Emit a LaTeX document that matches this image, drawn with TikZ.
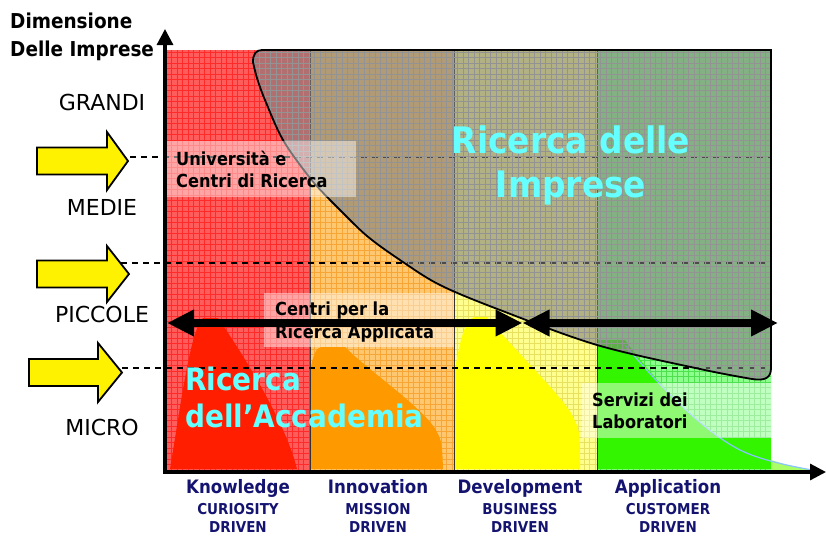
\documentclass[tikz,border=0pt]{standalone}
\usepackage{fontspec}
\setmainfont{DejaVu Sans}
\newfontfamily\bfont{DejaVu Sans}[FakeStretch=0.9]
\usetikzlibrary{arrows.meta}
\definecolor{redfill}{HTML}{FF5C5C}
\definecolor{redgrid}{HTML}{FF2A2A}
\definecolor{redhill}{HTML}{FF1E00}
\definecolor{orafill}{HTML}{FFC870}
\definecolor{oragrid}{HTML}{F7A535}
\definecolor{orahill}{HTML}{FF9900}
\definecolor{yelfill}{HTML}{FFFF90}
\definecolor{yelgrid}{HTML}{E8E060}
\definecolor{yelhill}{HTML}{FFFF00}
\definecolor{grnfill}{HTML}{8CFF8C}
\definecolor{grngrid}{HTML}{4FE04F}
\definecolor{grnhill}{HTML}{33F500}
\definecolor{greyov}{HTML}{7D7D7D}
\definecolor{cyantext}{HTML}{66FFFF}
\definecolor{navy}{HTML}{141470}
\definecolor{tailblue}{HTML}{88C4FF}
\newcommand{\drawcolumn}[4]{%
  \begin{scope}
    \clip (#1,50) rectangle (#2,470);
    \fill[#3] (#1,50) rectangle (#2,470);
    \foreach \gx in {166,171.5,...,780} \draw[#4,line width=0.8pt] (\gx,50) -- (\gx,470);
    \foreach \gy in {52,57.5,...,472} \draw[#4,line width=0.8pt] (#1,\gy) -- (#2,\gy);
  \end{scope}}
\def\greypath{(771,50) -- (262,50) .. controls (256,50) and (253,54) .. (253,62)
  -- plot[smooth,tension=0.55] coordinates {(253,62) (257,78) (265,100) (283,140) (310,178) (330,200) (340,210) (367,236) (400,260) (440,285) (500,310) (597,345) (700,369) (752,379)}
  .. controls (765,381) and (771,378) .. (771,368) -- cycle}
\tikzset{
  lvl/.style={font=\fontsize{22}{26}\selectfont, anchor=base, inner sep=0pt},
  blk/.style={font=\bfont\bfseries\fontsize{18}{22}\selectfont, anchor=base west, inner sep=0pt},
  ttl/.style={font=\bfont\bfseries\fontsize{20.5}{24}\selectfont, anchor=base west, inner sep=0pt},
  bigcy/.style={text=cyantext, font=\bfont\bfseries\fontsize{36.5}{40}\selectfont, inner sep=0pt},
  midcy/.style={text=cyantext, font=\bfont\bfseries\fontsize{31}{34}\selectfont, anchor=base west, inner sep=0pt},
  phase/.style={text=navy, font=\bfont\bfseries\fontsize{18.5}{22}\selectfont, anchor=base, inner sep=0pt},
  driver/.style={text=navy, font=\bfont\bfseries\fontsize{15}{18}\selectfont, anchor=base, inner sep=0pt},
  yarrow/.style={fill=yellow, draw=black, line width=1.8pt, line join=miter},
  dashln/.style={draw=black, line width=1.4pt, dash pattern=on 6pt off 5pt},
  axisln/.style={draw=black, line width=3.2pt, -{Triangle[length=16pt,width=16pt]}},
  dblarrow/.style={draw=black, line width=8pt, {Triangle[length=27pt,width=25pt]}-{Triangle[length=27pt,width=25pt]}},
  glassbox/.style={fill=white, fill opacity=0.45, draw=none},
  divider/.style={draw=black!80, line width=1pt}
}
\begin{document}
\begin{tikzpicture}[x=1pt,y=-1pt]
\useasboundingbox (0,0) rectangle (826,536);
% columns
\drawcolumn{165}{310}{redfill}{redgrid}
\drawcolumn{310}{454}{orafill}{oragrid}
\drawcolumn{454}{597}{yelfill}{yelgrid}
\drawcolumn{597}{771}{grnfill}{grngrid}
% hills
\fill[redhill] (170,469) .. controls (180,410) and (190,330) .. (203,318) -- (218,318)
  .. controls (240,350) and (285,420) .. (297,469) -- cycle;
\fill[orahill] (310,469) -- (310,372) .. controls (313,355) and (316,347) .. (322,347) -- (345,347)
  .. controls (370,372) and (420,405) .. (436,430) .. controls (442,442) .. (443,469) -- cycle;
\fill[yelhill] (454,469) -- (454,375) .. controls (460,340) and (465,318) .. (475,317) -- (487,317)
  .. controls (510,345) and (558,392) .. (571,413) .. controls (580,430) .. (580,469) -- cycle;
\fill[grnhill] (597,469) -- (597,340) -- (625,340) .. controls (650,375) and (700,430) .. (740,450)
  .. controls (755,457) .. (771,462) -- (771,469) -- cycle;
\fill[grnhill] (597,438) rectangle (771,469);
\fill[green!55!yellow!60] (771,460) .. controls (790,466) .. (812,470) -- (771,470) -- cycle;
\draw[tailblue, line width=1.2pt] (625,345) .. controls (650,375) and (700,430) .. (740,450)
  .. controls (760,460) and (790,466) .. (812,470);
% column dividers
\draw[divider] (310,50) -- (310,470);
\draw[divider] (454,50) -- (454,470);
\draw[divider] (597,50) -- (597,470);
% dashed level lines
\coordinate (d1s) at (130,157); \coordinate (d1e) at (771,157);
\coordinate (d2s) at (121,263); \coordinate (d2e) at (771,263);
\coordinate (d3s) at (122,368); \coordinate (d3e) at (771,368);
\draw[dashln] (d1s) -- (d1e);
\draw[dashln] (d2s) -- (d2e);
\draw[dashln] (d3s) -- (d3e);
% grey region (Ricerca delle Imprese)
\fill[greyov, opacity=0.6] \greypath;
\begin{scope}
  \clip \greypath;
  \foreach \gx in {166,171.5,...,780} \draw[gray!85, line width=0.9pt] (\gx,50) -- (\gx,470);
  \foreach \gy in {52,57.5,...,472} \draw[gray!85, line width=0.9pt] (165,\gy) -- (771,\gy);
\end{scope}
\draw[black, line width=1.8pt] \greypath;
% translucent label boxes
\fill[glassbox] (166,141) rectangle (356,197);
\fill[glassbox] (264,293) rectangle (454,347);
\fill[glassbox] (582,383) rectangle (772,438);
% axes
\coordinate (orig) at (165,472);
\coordinate (ytip) at (165,29);
\coordinate (xstart) at (163,472);
\coordinate (xtip) at (826,472);
\draw[axisln] (orig) -- (ytip);
\draw[axisln] (xstart) -- (xtip);
% double arrows
\coordinate (aL) at (167,323);
\coordinate (aM) at (522.5,323);
\coordinate (aR) at (778,323);
\draw[dblarrow] (aL) -- (aM);
\draw[dblarrow] (aM) -- (aR);
% yellow block arrows
\draw[yarrow] (37,147.5) -- (107,147.5) -- (107,132) -- (128,161) -- (107,190) -- (107,174.5) -- (37,174.5) -- cycle;
\draw[yarrow] (37,260.5) -- (107,260.5) -- (107,246) -- (129,274) -- (107,302) -- (107,287.5) -- (37,287.5) -- cycle;
\draw[yarrow] (29,359) -- (98,359) -- (98,343) -- (122,372.5) -- (98,402) -- (98,386) -- (29,386) -- cycle;
% axis title
\node[ttl] (t1) at (10,28) {Dimensione};
\node[ttl] (t2) at (10,56) {Delle Imprese};
% size levels
\node[lvl] (grandi) at (102,110) {GRANDI};
\node[lvl] (medie) at (102,215) {MEDIE};
\node[lvl] (piccole) at (102,322) {PICCOLE};
\node[lvl] (micro) at (102,435) {MICRO};
% inner labels
\node[blk] (uni1) at (176,165) {Università e};
\node[blk] (uni2) at (176,187) {Centri di Ricerca};
\node[blk] (cen1) at (275,315) {Centri per la};
\node[blk] (cen2) at (275,338) {Ricerca Applicata};
\node[blk] (ser1) at (592,406) {Servizi dei};
\node[blk] (ser2) at (592,428) {Laboratori};
\node[bigcy, anchor=base] (imp1) at (571,153) {Ricerca delle};
\node[bigcy, anchor=base] (imp2) at (571,197) {Imprese};
\node[midcy] (acc1) at (185,390) {Ricerca};
\node[midcy] (acc2) at (185,427) {dell’Accademia};
% phases
\node[phase] (p1) at (238,493) {Knowledge};
\node[driver] (p1a) at (238,514) {CURIOSITY};
\node[driver] (p1b) at (238,532) {DRIVEN};
\node[phase] (p2) at (378,493) {Innovation};
\node[driver] (p2a) at (378,514) {MISSION};
\node[driver] (p2b) at (378,532) {DRIVEN};
\node[phase] (p3) at (520,493) {Development};
\node[driver] (p3a) at (520,514) {BUSINESS};
\node[driver] (p3b) at (520,532) {DRIVEN};
\node[phase] (p4) at (668,493) {Application};
\node[driver] (p4a) at (668,514) {CUSTOMER};
\node[driver] (p4b) at (668,532) {DRIVEN};
\end{tikzpicture}
\end{document}
